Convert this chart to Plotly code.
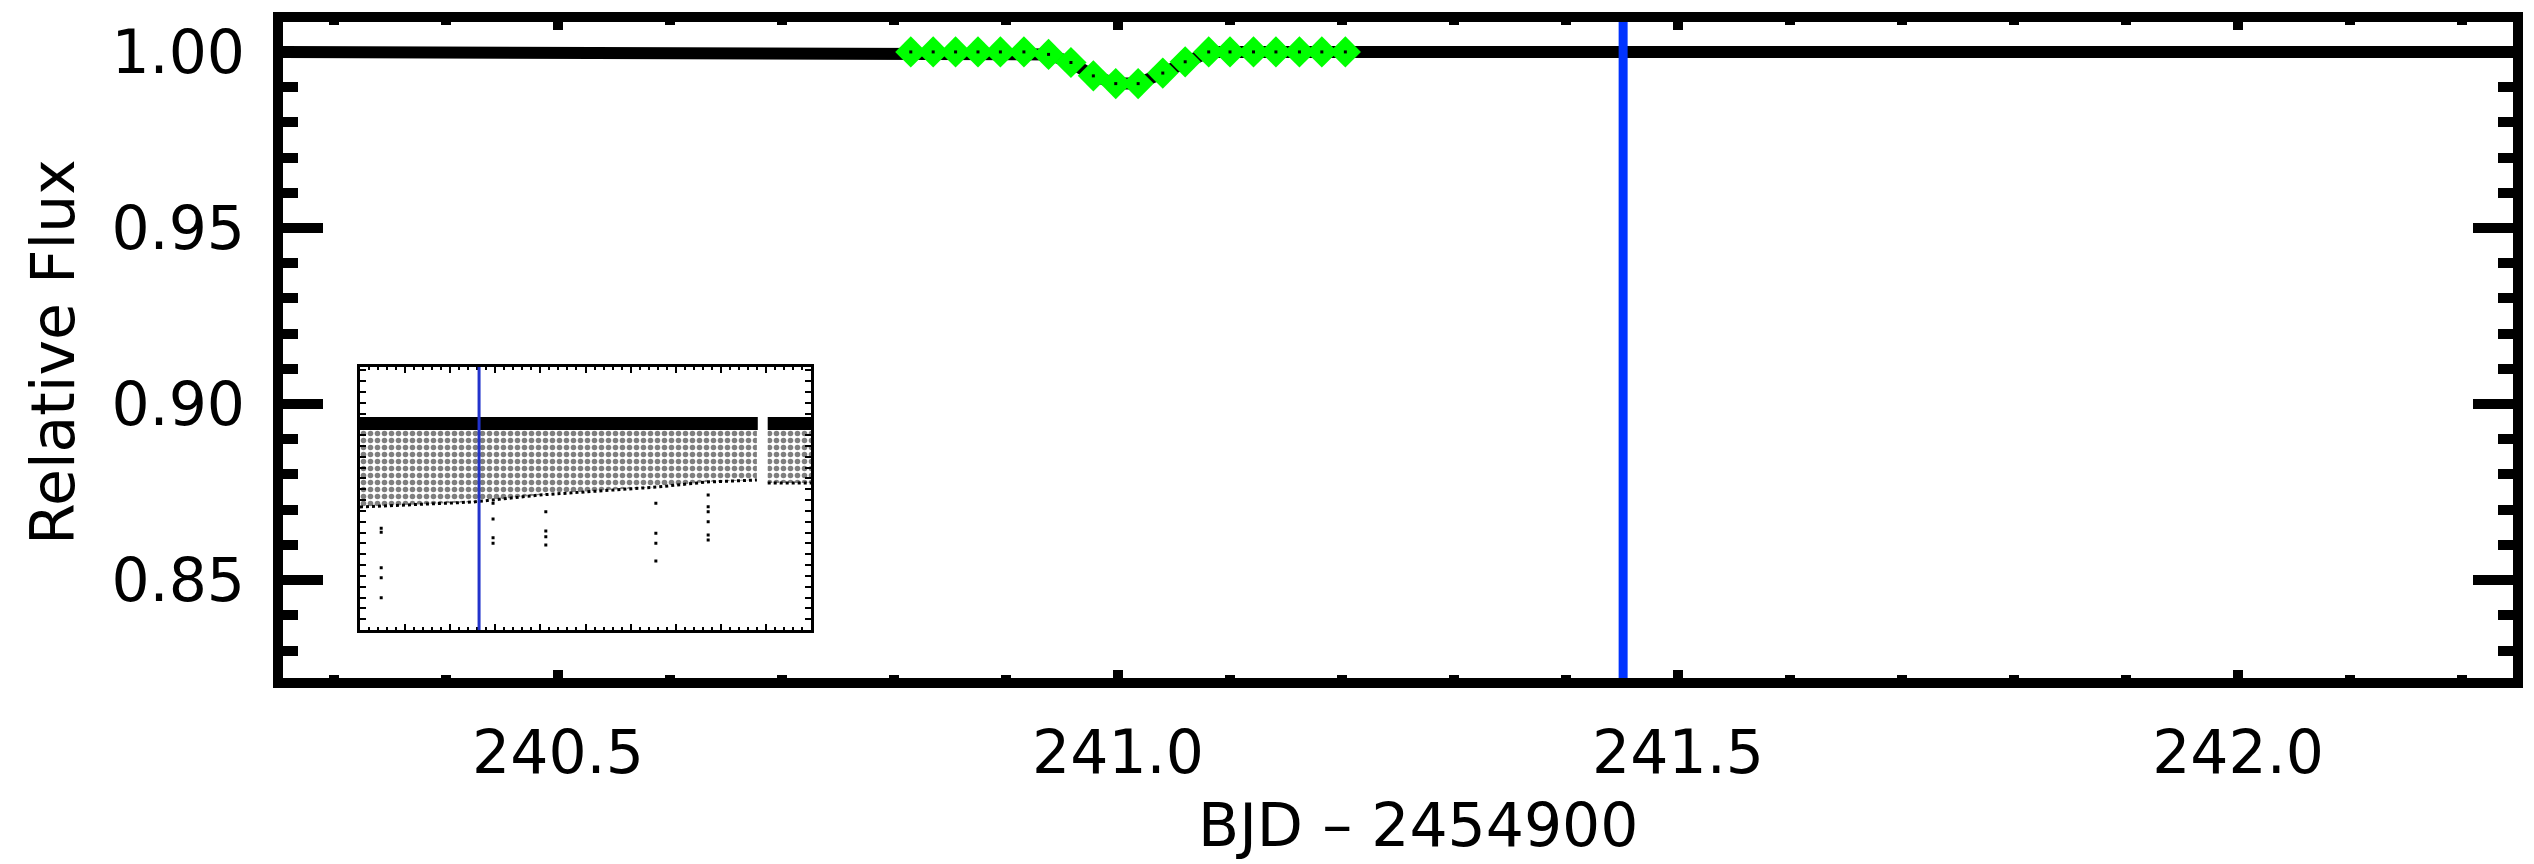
import plotly.graph_objects as go

# ---------------- data ----------------
obs_time = [240.815, 240.835, 240.855, 240.875, 240.895, 240.916, 240.938, 240.958,
            240.978, 240.998, 241.018, 241.040, 241.060, 241.081, 241.100, 241.121,
            241.141, 241.162, 241.182, 241.203]
obs_flux = [1.0000, 1.0000, 1.0000, 1.0000, 1.0000, 1.0000, 0.9993, 0.9970,
            0.9932, 0.9910, 0.9910, 0.9940, 0.9972, 1.0000, 1.0000, 1.0000,
            1.0000, 1.0000, 1.0000, 1.0000]

model_time = [240.25] + obs_time + [242.25]
model_flux = [1.0] + obs_flux + [1.0]

marker_time = 241.451

x_ticks = [240.5, 241.0, 241.5, 242.0]
y_ticks = [0.85, 0.90, 0.95, 1.00]

# inset: long light curve overview (arbitrary time units 0-100)
inset_marker_t = 26.4
band_left_t = [0.0, 25.1, 39.9, 54.8, 65.9, 76.9, 88.0]
band_left_low = [0.9666, 0.9686, 0.9714, 0.9734, 0.9746, 0.9766, 0.9774]
band_right_t = [90.4, 100.0]
band_right_low = [0.9762, 0.9762]
band_top = 0.9974
row_segments_t = [[0.0, 88.2], [90.4, 100.0]]
row_flux = 1.0
dip_t = [4.7, 4.7, 4.7, 4.7, 4.7,
         29.5, 29.5, 29.5, 29.5,
         41.2, 41.2, 41.2, 41.2,
         65.6, 65.6, 65.6, 65.6,
         77.2, 77.2, 77.2, 77.2, 77.2, 77.2]
dip_f = [0.9581, 0.9565, 0.9423, 0.9383, 0.9303,
         0.9681, 0.9618, 0.9543, 0.9521,
         0.9647, 0.9570, 0.9547, 0.9514,
         0.9681, 0.9561, 0.9521, 0.9450,
         0.9714, 0.9667, 0.9647, 0.9607, 0.9554, 0.9534]

# ---------------- figure ----------------
W, H = 2534, 864
L, R, T, B = 283, 21, 22, 186
pw = W - L - R
ph = H - T - B
FONT = dict(family="DejaVu Sans", size=60, color="black")
X_RANGE = [240.2545, 242.2455]
Y_RANGE = [0.8222, 1.0085]

fig = go.Figure()

fig.add_trace(go.Scatter(x=model_time, y=model_flux, mode="lines",
                         line=dict(color="black", width=12), hoverinfo="skip",
                         showlegend=False))
fig.add_trace(go.Scatter(x=obs_time, y=obs_flux, mode="markers",
                         marker=dict(symbol="diamond", size=24, color="rgb(0,255,0)",
                                     line=dict(width=0)),
                         showlegend=False))
fig.add_trace(go.Scatter(x=obs_time, y=obs_flux, mode="markers",
                         marker=dict(symbol="square", size=3, color="black",
                                     line=dict(width=0)),
                         showlegend=False, hoverinfo="skip"))

# invisible trace so that the top / right frame axes exist
fig.add_trace(go.Scatter(x=[marker_time], y=[1.0], xaxis="x3", yaxis="y3",
                         mode="markers", marker=dict(opacity=0),
                         showlegend=False, hoverinfo="skip"))

def band_poly(ts, lows, top):
    xs = list(ts) + list(ts[::-1]) + [ts[0]]
    ys = [top] * len(ts) + list(lows[::-1]) + [top]
    return xs, ys

for ts, lows in [(band_left_t, band_left_low), (band_right_t, band_right_low)]:
    bx, by = band_poly(ts, lows, band_top)
    fig.add_trace(go.Scatter(x=bx, y=by, xaxis="x2", yaxis="y2", mode="lines",
                             fill="toself", line=dict(width=0, color="black"),
                             fillcolor="white",
                             fillpattern=dict(shape=".", fgcolor="black", bgcolor="white",
                                              size=7, solidity=0.5),
                             showlegend=False, hoverinfo="skip"))
    fig.add_trace(go.Scatter(x=ts, y=lows, xaxis="x2", yaxis="y2", mode="lines",
                             line=dict(width=3, color="black", dash="dot"),
                             showlegend=False, hoverinfo="skip"))

for seg in row_segments_t:
    fig.add_trace(go.Scatter(x=seg, y=[row_flux, row_flux], xaxis="x2", yaxis="y2",
                             mode="lines", line=dict(width=13, color="black"),
                             showlegend=False, hoverinfo="skip"))

fig.add_trace(go.Scatter(x=dip_t, y=dip_f, xaxis="x2", yaxis="y2", mode="markers",
                         marker=dict(symbol="square", size=3, color="black",
                                     line=dict(width=0)),
                         showlegend=False, hoverinfo="skip"))

# vertical markers
fig.add_shape(type="line", xref="x", yref="y domain", x0=marker_time, x1=marker_time,
              y0=0, y1=1, line=dict(color="#0033ff", width=9), layer="above")
fig.add_shape(type="line", xref="x2", yref="y2 domain", x0=inset_marker_t,
              x1=inset_marker_t, y0=0, y1=1, line=dict(color="#2233cc", width=3),
              layer="above")

xmajor = dict(tickvals=x_ticks, ticks="inside", ticklen=8, tickwidth=10,
              tickcolor="black",
              minor=dict(ticks="inside", dtick=0.1, tick0=240.0, ticklen=3,
                         tickwidth=10, tickcolor="black", showgrid=False),
              showline=True, linecolor="black", linewidth=10,
              showgrid=False, zeroline=False, range=X_RANGE)
ymajor = dict(tickvals=y_ticks, ticks="inside", ticklen=40, tickwidth=10,
              tickcolor="black",
              minor=dict(ticks="inside", dtick=0.01, tick0=0.80, ticklen=15,
                         tickwidth=10, tickcolor="black", showgrid=False),
              showline=True, linecolor="black", linewidth=10,
              showgrid=False, zeroline=False, range=Y_RANGE)

fig.update_layout(
    width=W, height=H,
    margin=dict(l=L, r=R, t=T, b=B, pad=0),
    paper_bgcolor="white", plot_bgcolor="white",
    font=FONT,
    xaxis=dict(**xmajor, ticktext=[f"{v:.1f}" for v in x_ticks], side="bottom",
               tickfont=FONT, ticklabelstandoff=13),
    yaxis=dict(**ymajor, ticktext=[f"{v:.2f}" for v in y_ticks], side="left",
               tickfont=FONT, ticklabelstandoff=16),
    xaxis3=dict(**xmajor, overlaying="x", side="top", anchor="y3",
                showticklabels=False),
    yaxis3=dict(**ymajor, overlaying="y", side="right", anchor="x3",
                showticklabels=False),
    xaxis2=dict(domain=[(360 - L) / pw, (811 - L) / pw], anchor="y2", range=[0, 100],
                showline=True, linecolor="black", linewidth=3, mirror="ticks",
                ticks="inside", ticklen=6, tickwidth=2, tickcolor="black",
                dtick=10, tick0=0,
                minor=dict(ticks="inside", dtick=2, ticklen=3, tickwidth=1.5,
                           tickcolor="black", showgrid=False),
                showticklabels=False, showgrid=False, zeroline=False),
    yaxis2=dict(domain=[(H - B - 630) / ph, (H - B - 367) / ph], anchor="x2",
                range=[0.9174, 1.0226],
                showline=True, linecolor="black", linewidth=3, mirror="ticks",
                ticks="inside", ticklen=6, tickwidth=2, tickcolor="black",
                dtick=0.00433, tick0=0.9174,
                showticklabels=False, showgrid=False, zeroline=False),
    annotations=[
        dict(text="Relative Flux", xref="paper", yref="paper",
             x=(53 - L) / pw, y=(H - B - 352) / ph, xanchor="center", yanchor="middle",
             textangle=-90, showarrow=False, font=FONT),
        dict(text="BJD \u2013 2454900", xref="paper", yref="paper",
             x=(1418 - L) / pw, y=(H - B - 862) / ph, xanchor="center", yanchor="bottom",
             showarrow=False, font=FONT),
    ],
)

fig.write_html("out.html")
